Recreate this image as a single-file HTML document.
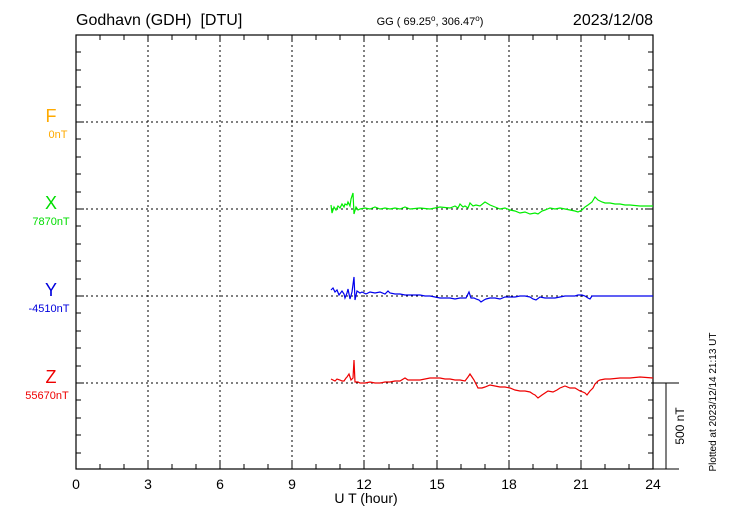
<!DOCTYPE html>
<html><head><meta charset="utf-8"><style>
html,body{margin:0;padding:0;background:#fff;}
svg{display:block;font-family:"Liberation Sans",sans-serif;}
</style></head><body>
<svg width="730" height="520" viewBox="0 0 730 520" xmlns="http://www.w3.org/2000/svg">
<rect width="730" height="520" fill="#fff"/>
<text x="76" y="25" font-size="16">Godhavn (GDH)&#160; [DTU]</text>
<text x="430" y="25" font-size="11" text-anchor="middle">GG ( 69.25<tspan dy="-4" font-size="8">o</tspan><tspan dy="4">, 306.47</tspan><tspan dy="-4" font-size="8">o</tspan><tspan dy="4">)</tspan></text>
<text x="653" y="25" font-size="16" text-anchor="end">2023/12/08</text>
<g stroke="#000" stroke-width="1" stroke-dasharray="2,3" fill="none">
<line x1="148" y1="35" x2="148" y2="469"/><line x1="220" y1="35" x2="220" y2="469"/>
<line x1="292" y1="35" x2="292" y2="469"/><line x1="364" y1="35" x2="364" y2="469"/>
<line x1="437" y1="35" x2="437" y2="469"/><line x1="509" y1="35" x2="509" y2="469"/>
<line x1="581" y1="35" x2="581" y2="469"/>
<line x1="76" y1="122" x2="653" y2="122"/><line x1="76" y1="209" x2="653" y2="209"/>
<line x1="76" y1="296" x2="653" y2="296"/><line x1="76" y1="383" x2="653" y2="383"/>
</g>
<rect x="76" y="35" width="577" height="434" fill="none" stroke="#000" stroke-width="1.2"/>
<g stroke="#000" stroke-width="1">
<path d="M100 35v5M124 35v5M172 35v5M196 35v5M244 35v5M268 35v5M316 35v5M340 35v5M389 35v5M413 35v5M461 35v5M485 35v5M533 35v5M557 35v5M605 35v5M629 35v5
M100 469v-5M124 469v-5M172 469v-5M196 469v-5M244 469v-5M268 469v-5M316 469v-5M340 469v-5M389 469v-5M413 469v-5M461 469v-5M485 469v-5M533 469v-5M557 469v-5M605 469v-5M629 469v-5
M148 35v7M220 35v7M292 35v7M364 35v7M437 35v7M509 35v7M581 35v7
M148 469v-7M220 469v-7M292 469v-7M364 469v-7M437 469v-7M509 469v-7M581 469v-7"/>
<path d="M76 52h5M76 70h5M76 87h5M76 105h5M76 139h5M76 157h5M76 174h5M76 192h5M76 226h5M76 244h5M76 261h5M76 279h5M76 313h5M76 331h5M76 348h5M76 366h5M76 400h5M76 418h5M76 435h5M76 453h5
M653 52h-5M653 70h-5M653 87h-5M653 105h-5M653 139h-5M653 157h-5M653 174h-5M653 192h-5M653 226h-5M653 244h-5M653 261h-5M653 279h-5M653 313h-5M653 331h-5M653 348h-5M653 366h-5M653 400h-5M653 418h-5M653 435h-5M653 453h-5
M76 122h8M76 209h8M76 296h8M76 383h8M653 122h-8M653 209h-8M653 296h-8"/>
<path d="M653 383h26M653 469h26M666 383v86"/>
</g>
<g font-size="14" text-anchor="middle">
<text x="76" y="489">0</text><text x="148" y="489">3</text><text x="220" y="489">6</text><text x="292" y="489">9</text>
<text x="364" y="489">12</text><text x="437" y="489">15</text><text x="509" y="489">18</text><text x="581" y="489">21</text><text x="653" y="489">24</text>
<text x="366" y="503">U T (hour)</text>
</g>
<g text-anchor="middle">
<text x="51" y="122" font-size="18" fill="#ffaa00">F</text><text x="58" y="138" font-size="11" fill="#ffaa00">0nT</text>
<text x="51" y="209" font-size="18" fill="#00dd00">X</text><text x="51" y="225" font-size="11" fill="#00dd00">7870nT</text>
<text x="51" y="296" font-size="18" fill="#0000dd">Y</text><text x="49" y="312" font-size="11" fill="#0000dd">-4510nT</text>
<text x="51" y="383" font-size="18" fill="#ee0000">Z</text><text x="47" y="399" font-size="11" fill="#ee0000">55670nT</text>
</g>
<text transform="translate(684,426) rotate(-90)" font-size="12" text-anchor="middle">500 nT</text>
<text transform="translate(716,402) rotate(-90)" font-size="10" text-anchor="middle">Plotted at 2023/12/14 21:13 UT</text>
<g fill="none" stroke-width="1.2">
<polyline stroke="#00ee00" points="331,205 332,213 334,207 336,210 338,206 340,208 342,204 344,207 345,204 347,205 348,202 350,206 351,199 353,193 354,214 356,207 358,210 360,209 365,208 370,209 375,207 380,209 385,208 390,209 395,208 400,209 405,207 410,209 420,208 430,209 440,207 450,208 455,206 458,208 460,204 463,207 465,206 468,208 470,203 473,206 476,205 480,206 485,202 490,205 495,207 500,209 505,208 510,210 515,211 520,213 525,212 530,214 535,213 538,214 542,211 545,210 550,208 555,209 560,208 565,209 570,210 575,211 578,212 582,210 585,207 588,205 592,202 595,197 598,200 602,202 605,203 610,203 615,204 620,204 625,205 630,205 640,206 653,206"/>
<polyline stroke="#0000ee" points="331,290 333,288 335,292 337,290 339,295 342,291 344,294 345,298 347,293 348,289 350,299 352,292 354,277 355,300 357,291 360,293 362,292 366,294 370,292 375,293 380,292 385,294 388,291 390,293 395,294 400,294 405,295 410,295 415,295 420,295 425,296 430,296 435,297 440,298 450,298 455,299 460,298 466,298 469,292 471,298 474,298 476,299 479,300 481,302 484,300 486,299 490,298 495,298 500,299 505,297 510,297 515,297 520,296 525,296 530,297 533,299 536,300 540,297 545,298 550,298 555,298 560,297 565,296 570,296 575,296 578,295 582,295 585,296 588,298 590,299 592,296 595,296 600,296 610,296 630,296 653,296"/>
<polyline stroke="#ee0000" points="331,379 333,380 335,381 337,379 340,380 342,381 344,381 346,378 347,377 349,374 351,380 353,378 354,360 355,382 358,382 360,383 365,383 370,382 375,383 380,383 385,382 390,382 395,381 400,381 405,378 408,380 410,380 415,380 420,380 425,379 430,378 435,378 440,378 445,379 450,379 455,380 460,380 465,381 468,377 470,374 472,377 474,380 476,384 478,388 482,388 485,387 490,385 495,386 500,387 505,387 510,388 515,390 520,391 525,391 530,392 533,394 535,395 538,398 542,395 545,393 548,391 553,392 557,390 560,388 565,386 570,388 575,388 580,391 583,392 585,393 587,395 590,391 593,388 595,384 598,381 600,380 605,379 610,379 620,378 630,378 640,377 653,378"/>
</g>
</svg>
</body></html>
